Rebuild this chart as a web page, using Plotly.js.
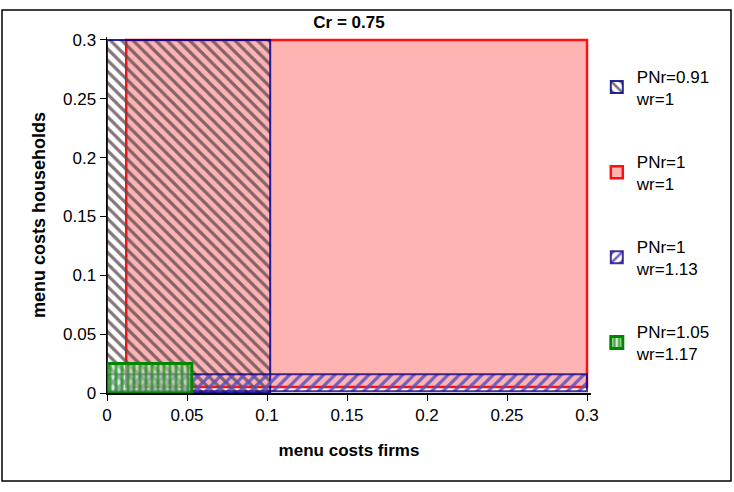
<!DOCTYPE html>
<html>
<head>
<meta charset="utf-8">
<script src="https://cdn.plot.ly/plotly-3.0.1.min.js"></script>
<style>html,body{margin:0;padding:0;background:#fff;}#chart{width:734px;height:492px;}</style>
</head>
<body>
<div id="chart"></div>
<script>
// Series (rectangular regions in menu-cost space)
const seriesNames = ['PNr=0.91<br>wr=1', 'PNr=1<br>wr=1', 'PNr=1<br>wr=1.13', 'PNr=1.05<br>wr=1.17'];
const firmsLow  = [0,     0.012, 0,      0];
const firmsHigh = [0.102, 0.3,   0.3,    0.053];
const hhLow     = [0,     0.005, 0.0015, 0];
const hhHigh    = [0.3,   0.3,   0.016,  0.025];
const tickVals  = [0, 0.05, 0.1, 0.15, 0.2, 0.25, 0.3];
const tickText  = ['0', '0.05', '0.1', '0.15', '0.2', '0.25', '0.3'];
const chartTitle = 'Cr = 0.75';

const markers = [
  {color: 'rgba(255,255,255,0)', line: {color: 'rgba(0,0,140,0.85)', width: 2},
   pattern: {shape: '\\', fgcolor: 'rgb(90,70,80)', fgopacity: 0.75, size: 8, solidity: 0.4}},
  {color: 'rgb(255,180,180)', line: {color: '#ff1010', width: 2.5}},
  {color: 'rgba(255,255,255,0)', line: {color: 'rgba(20,0,130,0.8)', width: 2},
   pattern: {shape: '/', fgcolor: 'rgb(90,80,190)', fgopacity: 0.85, size: 8, solidity: 0.4}},
  {color: 'rgba(170,225,170,0.6)', line: {color: 'rgb(0,135,0)', width: 3},
   pattern: {shape: '|', fgcolor: 'rgb(40,140,40)', fgopacity: 0.75, size: 6, solidity: 0.5, fillmode: 'overlay'}}
];

// draw order: pink first, then hatched regions on top
const drawOrder = [1, 0, 2, 3];
const traces = drawOrder.map(i => ({
  type: 'bar',
  x: [(firmsLow[i] + firmsHigh[i]) / 2],
  width: [firmsHigh[i] - firmsLow[i]],
  base: [hhLow[i]],
  y: [hhHigh[i] - hhLow[i]],
  name: seriesNames[i], legendrank: i + 1, legendgroup: 'g' + i,
  marker: markers[i],
  hoverinfo: 'name'
}));

const W = 484, H = 356, L = 107, T = 37;
function px(xp) { return (xp - L) / W; }
function py(yp) { return (T + H - yp) / H; }

const layout = {
  width: 734, height: 492,
  margin: {l: L, r: 734 - L - W, t: T, b: 492 - T - H},
  paper_bgcolor: '#fff', plot_bgcolor: '#fff',
  barmode: 'overlay',
  font: {family: 'Arial, "Liberation Sans", sans-serif', color: '#000', size: 16},
  title: {text: '<b>' + chartTitle + '</b>', x: 0.5, xref: 'paper', xanchor: 'center',
          y: 1 - 22 / 492, yref: 'container', yanchor: 'middle',
          font: {size: 17, family: 'Arial, "Liberation Sans", sans-serif', color: '#000'}},
  showlegend: true,
  legend: {x: 1.012, xanchor: 'left', y: 0.94, yanchor: 'top', traceorder: 'grouped',
           tracegroupgap: 38, font: {size: 17}, bgcolor: 'rgba(0,0,0,0)', itemwidth: 30},
  xaxis: {range: [0, 0.3025], tickvals: tickVals, ticktext: tickText, showgrid: false, zeroline: false,
          showline: true, linecolor: '#000', linewidth: 1.5, ticks: 'outside', ticklen: 6, tickcolor: '#000',
          tickfont: {size: 17},
          title: {text: '<b>menu costs firms</b>', font: {size: 17}, standoff: 20}},
  yaxis: {range: [0, 0.3025], tickvals: tickVals, ticktext: tickText, showgrid: false, zeroline: false,
          showline: true, linecolor: '#000', linewidth: 1.5, ticks: 'outside', ticklen: 6, tickcolor: '#000',
          tickfont: {size: 17},
          title: {text: '<b>menu costs households</b>', font: {size: 18}, standoff: 12}},
  shapes: [
    {type: 'rect', xref: 'paper', yref: 'paper', x0: px(2), x1: px(731), y0: py(481), y1: py(10),
     line: {color: '#000', width: 1.5}, fillcolor: 'rgba(0,0,0,0)', layer: 'below'}
  ]
};

Plotly.newPlot('chart', traces, layout, {displayModeBar: false, staticPlot: true});
</script>
</body>
</html>
